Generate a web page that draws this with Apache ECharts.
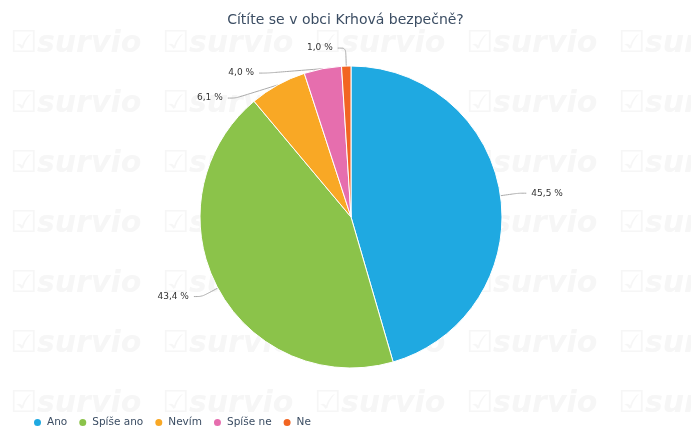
<!DOCTYPE html>
<html>
<head>
<meta charset="utf-8">
<script src="https://cdn.jsdelivr.net/npm/echarts@6/dist/echarts.min.js"></script>
<style>
  html, body { margin: 0; padding: 0; background: #fff; }
  #pie { width: 691px; height: 432px; }
</style>
</head>
<body>
<div id="pie"></div>
<script>
// data
var categories = ['Ano', 'Spíše ano', 'Nevím', 'Spíše ne', 'Ne']
var values = [45.5, 43.4, 6.1, 4.0, 1.0]
var colors = ['#1fa9e1', '#8bc34a', '#f9a825', '#e66eae', '#f26522']

// background watermark grid
var marks = []
for (var r = 0; r < 7; r++) {
  for (var c = 0; c < 5; c++) {
    marks.push({
      type: 'text',
      left: 10 + c * 152,
      top: 29 + r * 60,
      z: -10,
      silent: true,
      style: {
        text: '☑survio',
        fill: '#f6f6f6',
        font: 'italic bold 30px "DejaVu Sans"'
      }
    })
  }
}

var charts = echarts.init(document.getElementById('pie'))
charts.setOption({
  animation: false,
  title: {
    text: 'Cítíte se v obci Krhová bezpečně?',
    left: 'center',
    top: 8,
    textStyle: {
      color: '#3b4d63',
      fontSize: 14,
      fontWeight: 'normal',
      fontFamily: 'DejaVu Sans'
    }
  },
  graphic: marks,
  legend: {
    data: categories,
    left: 27,
    top: 412,
    icon: 'circle',
    itemWidth: 9,
    itemHeight: 9,
    itemGap: 10,
    textStyle: {
      color: '#3b4d63',
      fontSize: 10.5,
      fontFamily: 'DejaVu Sans'
    }
  },
  series: [
    {
      type: 'pie',
      center: [351, 217],
      radius: [0, 151],
      startAngle: 90,
      clockwise: true,
      color: colors,
      itemStyle: { borderColor: '#fff', borderWidth: 1 },
      label: {
        show: true,
        color: '#333',
        fontSize: 9,
        lineHeight: 23,
        fontFamily: 'DejaVu Sans',
        formatter: function (p) {
          return p.value.toFixed(1).replace('.', ',') + ' %'
        }
      },
      labelLine: {
        show: true,
        length: 18,
        length2: 8,
        smooth: true,
        lineStyle: { color: '#aaa', width: 1 }
      },
      data: categories.map(function (name, i) {
        return { name: name, value: values[i] }
      })
    }
  ]
})
</script>
</body>
</html>
